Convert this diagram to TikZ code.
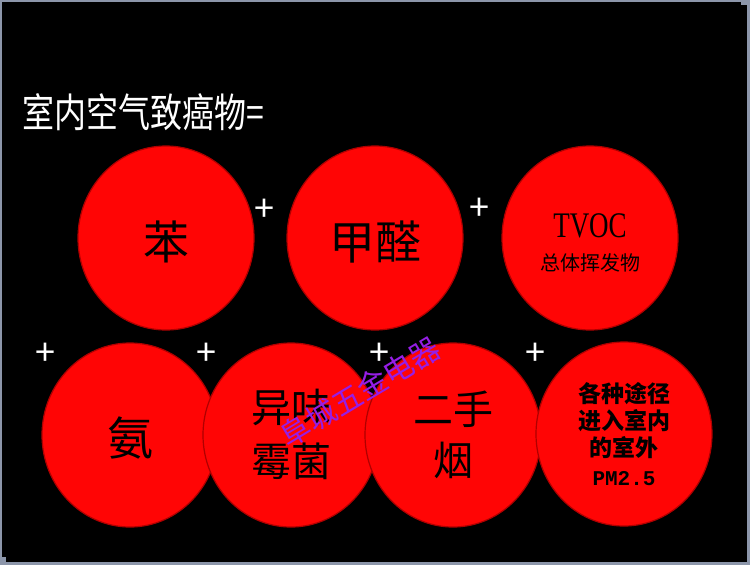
\documentclass[tikz,border=0pt]{standalone}
\usepackage{fontspec}
\usepackage{graphicx}
\newfontfamily\cjk{Noto Sans CJK SC}
\newfontfamily\pmfont{Liberation Mono}
\newfontfamily\serifx{Liberation Serif}
\usetikzlibrary{shapes.geometric}
\definecolor{frame}{RGB}{140,150,170}
\definecolor{ballred}{RGB}{255,5,5}
\definecolor{rim}{RGB}{175,0,0}
\definecolor{mark}{RGB}{150,30,230}
\newcommand{\sz}[1]{\fontsize{#1}{#1}\selectfont}
\newcommand{\dropby}[2]{\raisebox{-#1}[\height][\depth]{#2}}

\begin{document}
\begin{tikzpicture}[x=1pt,y=-1pt,
  ball/.style={ellipse, fill=ballred, draw=rim, line width=1.2pt,
    minimum width=176pt, minimum height=184pt, inner sep=0pt,
    align=center, text=black},
  plus/.style={text=white, font=\cjk\sz{36}, inner sep=0pt}]
\useasboundingbox (0,0) rectangle (750,565);
\fill[black] (0,0) rectangle (750,565);
% frame of the slide
\fill[frame] (0,0) rectangle (750,2);
\fill[frame] (0,0) rectangle (2,565);
\fill[frame] (747,0) rectangle (750,565);
\fill[frame] (0,562) rectangle (750,565);
\fill[frame] (741,0) rectangle (750,5);
\fill[frame] (0,557) rectangle (6,565);

\node[anchor=west, text=white, font=\cjk\sz{40}] (title) at (19,112)
  {\scalebox{0.8}[1]{室内空气致癌物=}};

% top row
\node[ball, font=\cjk\sz{46}] (ben) at (166,238) {\dropby{4pt}{苯}};
\node[ball, font=\cjk\sz{46}] (jiaquan) at (375,238) {\dropby{4pt}{甲醛}};
\node[ball, font=\cjk\sz{20}] (tvoc) at (590,238)
  {\dropby{7pt}{\begin{tabular}{@{}c@{}}
     \scalebox{0.75}[1]{\serifx\sz{36}TVOC}\\[10pt]总体挥发物
   \end{tabular}}};
\node[plus] (p1) at (264,210) {+};
\node[plus] (p2) at (479,209) {+};

% bottom row
\node[ball, font=\cjk\sz{46}] (an) at (130,435) {\dropby{3pt}{氨}};
\node[ball, font=\cjk\sz{40}] (meijun) at (291,435)
  {\dropby{4pt}{\begin{tabular}{@{}c@{}}异味\\[8pt]霉菌\end{tabular}}};
\node[ball, font=\cjk\sz{40}] (yan) at (453,435)
  {\dropby{4pt}{\begin{tabular}{@{}c@{}}二手\\[6pt]烟\end{tabular}}};
\node[ball, font=\cjk\bfseries\fontsize{23}{27}\selectfont] (pm) at (624,434)
  {各种途径\\进入室内\\的室外\\[2pt]{\pmfont\bfseries\sz{21}PM2.5}};
\node[plus] (p3) at (45,354) {+};
\node[plus] (p4) at (206,354) {+};
\node[plus] (p5) at (379,354) {+};
\node[plus] (p6) at (535,354) {+};

\node[rotate=31, text=mark, font=\cjk\sz{30}] (wmark) at (360,392) {阜城五金电器};
\end{tikzpicture}
\end{document}
